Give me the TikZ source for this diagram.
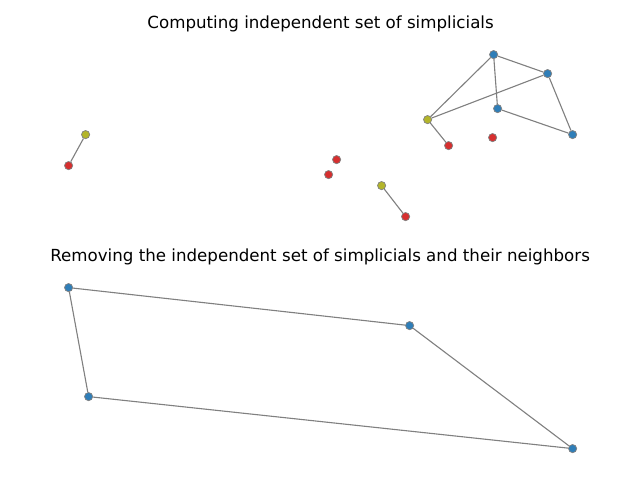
\documentclass[tikz,border=0pt]{standalone}
\usepackage{fontspec}
\setmainfont{DejaVu Sans}
\definecolor{tabblue}{HTML}{2F7EB8}
\definecolor{tabred}{HTML}{D62F2F}
\definecolor{tabolive}{HTML}{B3B52A}
\definecolor{edgegray}{HTML}{808080}
\tikzset{
  vx/.style={circle,draw=edgegray,line width=0.5pt,inner sep=0pt,minimum size=5.9pt},
  bv/.style={vx,fill=tabblue},
  rv/.style={vx,fill=tabred},
  ov/.style={vx,fill=tabolive},
  ed/.style={draw=edgegray,line width=0.8pt},
  ttl/.style={font=\fontsize{12}{14}\selectfont,anchor=center,inner sep=0pt}
}
\begin{document}
\begin{tikzpicture}[x=0.72pt,y=-0.72pt]
\useasboundingbox (0,0) rectangle (640,480);
\begin{scope}[shift={(0.6,0.6)}]
\node[ttl] (t1) at (320,23) {Computing independent set of simplicials};
\node[ttl] (t2) at (319.5,256) {Removing the independent set of simplicials and their neighbors};
% top graph
\node[bv] (a) at (493,54) {};
\node[bv] (b) at (547,73) {};
\node[bv] (c) at (497,108) {};
\node[bv] (d) at (572,134) {};
\node[ov] (e) at (427,119) {};
\node[rv] (f) at (448,145) {};
\node[rv] (g) at (492,137) {};
\node[ov] (h) at (85,134) {};
\node[rv] (i) at (68,165) {};
\node[rv] (j) at (336,159) {};
\node[rv] (k) at (328,174) {};
\node[ov] (l) at (381,185) {};
\node[rv] (m) at (405,216) {};
\draw[ed] (a) -- (b);
\draw[ed] (a) -- (c);
\draw[ed] (a) -- (e);
\draw[ed] (b) -- (e);
\draw[ed] (b) -- (d);
\draw[ed] (c) -- (d);
\draw[ed] (e) -- (f);
\draw[ed] (h) -- (i);
\draw[ed] (l) -- (m);
% bottom graph
\node[bv] (p) at (68,287) {};
\node[bv] (q) at (409,325) {};
\node[bv] (r) at (88,396) {};
\node[bv] (s) at (572,448) {};
\draw[ed] (p) -- (q);
\draw[ed] (p) -- (r);
\draw[ed] (r) -- (s);
\draw[ed] (q) -- (s);
\end{scope}
\end{tikzpicture}
\end{document}
